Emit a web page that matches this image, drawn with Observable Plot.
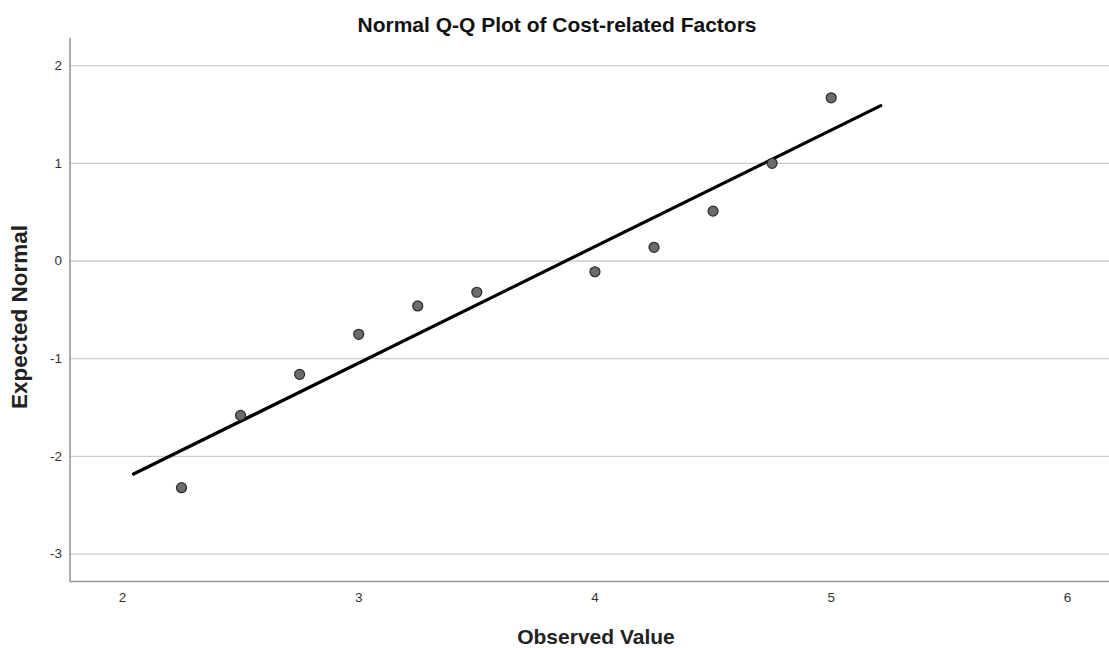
<!DOCTYPE html>
<html>
<head>
<meta charset="utf-8">
<script src="https://cdn.jsdelivr.net/npm/d3@7"></script>
<script src="https://cdn.jsdelivr.net/npm/@observablehq/plot@0.6"></script>
<style>
  html, body { margin: 0; padding: 0; background: #fff; }
  #wrap { position: relative; width: 1109px; height: 648px; font-family: "Liberation Sans", Arial, sans-serif; }
  #wrap svg { position: absolute; left: 0; top: 0; }
  .lbl { position: absolute; font-weight: bold; white-space: nowrap; line-height: 1; }
  #title { left: 557px; top: 24px; font-size: 21px; color: #111; transform: translate(-50%, -50%); }
  #xlab { left: 596px; top: 636px; font-size: 21px; color: #222; transform: translate(-50%, -50%); }
  #ylab { left: 20px; top: 317px; font-size: 22.5px; transform: translate(-50%, -50%) rotate(-90deg); color: #222; }
</style>
</head>
<body>
<div id="wrap">
  <div id="title" class="lbl">Normal Q-Q Plot of Cost-related Factors</div>
  <div id="ylab" class="lbl">Expected Normal</div>
  <div id="xlab" class="lbl">Observed Value</div>
</div>
<script>
// Observed values and expected normal quantiles
const observed = [2.25, 2.5, 2.75, 3.0, 3.25, 3.5, 4.0, 4.25, 4.5, 4.75, 5.0];
const expected = [-2.32, -1.58, -1.16, -0.75, -0.46, -0.32, -0.11, 0.14, 0.51, 1.0, 1.67];

// Reference (normal) line endpoints
const lineX = [2.047, 5.21];
const lineY = [-2.18, 1.59];

// Axes
const xTicks = [2, 3, 4, 5, 6];
const yTicks = [-3, -2, -1, 0, 1, 2];
const xDomain = [1.778, 6.178];
const yDomain = [-3.28, 2.277];

const points = observed.map((x, i) => ({x, y: expected[i]}));
const refLine = lineX.map((x, i) => ({x, y: lineY[i]}));
const fmt = d => String(d);

const chart = Plot.plot({
  width: 1109,
  height: 648,
  marginLeft: 69.5,
  marginRight: 0,
  marginTop: 38,
  marginBottom: 67,
  style: { fontFamily: "'Liberation Sans', Arial, sans-serif", fontSize: "13.5px", color: "#333", background: "transparent" },
  x: { domain: xDomain, label: null },
  y: { domain: yDomain, label: null },
  marks: [
    Plot.ruleY(yTicks, { stroke: "#cccccc", strokeWidth: 1.3, strokeOpacity: 1 }),
    Plot.ruleX([xDomain[0]], { stroke: "#999", strokeWidth: 1.6 }),
    Plot.ruleY([yDomain[0]], { stroke: "#999", strokeWidth: 1.6 }),
    Plot.axisX({ ticks: xTicks, tickFormat: fmt, tickSize: 0, tickPadding: 11, label: null, fill: "#333" }),
    Plot.axisY({ ticks: yTicks, tickFormat: fmt, tickSize: 0, tickPadding: 8, label: null, fill: "#333" }),
    Plot.line(refLine, { x: "x", y: "y", stroke: "#000", strokeWidth: 3.2 }),
    Plot.dot(points, { x: "x", y: "y", r: 5, fill: "#6b6b6b", stroke: "#2a2a2a", strokeWidth: 1.2 })
  ]
});
document.getElementById("wrap").prepend(chart);
</script>
</body>
</html>
